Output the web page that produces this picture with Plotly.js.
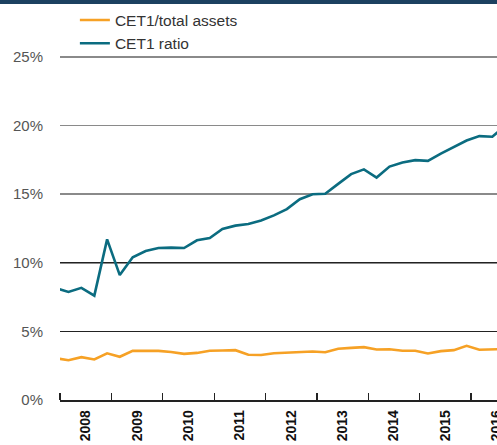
<!DOCTYPE html>
<html>
<head>
<meta charset="utf-8">
<script src="https://cdn.plot.ly/plotly-3.0.1.min.js"></script>
<style>
  html, body { margin: 0; padding: 0; background: #fff; }
  #wrap { position: relative; width: 497px; height: 445px; overflow: hidden; }
  #band { position: absolute; left: 0; top: 0; width: 497px; height: 4px; background: #1c4160; z-index: 5; }
  #chart { position: absolute; left: 0; top: 0; width: 540px; height: 445px; }
</style>
</head>
<body>
<div id="wrap"><div id="band"></div><div id="chart"></div></div>
<script>
const dates = [
  "2007-12-01","2008-03-01","2008-06-01","2008-09-01",
  "2008-12-01","2009-03-01","2009-06-01","2009-09-01",
  "2009-12-01","2010-03-01","2010-06-01","2010-09-01",
  "2010-12-01","2011-03-01","2011-06-01","2011-09-01",
  "2011-12-01","2012-03-01","2012-06-01","2012-09-01",
  "2012-12-01","2013-03-01","2013-06-01","2013-09-01",
  "2013-12-01","2014-03-01","2014-06-01","2014-09-01",
  "2014-12-01","2015-03-01","2015-06-01","2015-09-01",
  "2015-12-01","2016-03-01","2016-06-01","2016-09-01"
];
const cet1TotalAssets = [
  3.05, 2.90, 3.12, 2.95,
  3.40, 3.15, 3.58, 3.58,
  3.58, 3.50, 3.36, 3.43,
  3.59, 3.61, 3.63, 3.30,
  3.28, 3.40, 3.44, 3.48,
  3.53, 3.48, 3.73, 3.80,
  3.85, 3.68, 3.70, 3.59,
  3.59, 3.39, 3.56, 3.63,
  3.95, 3.66, 3.68, 3.72
];
const cet1Ratio = [
  8.15, 7.87, 8.17, 7.60,
  11.70, 9.10, 10.40, 10.85,
  11.07, 11.10, 11.07, 11.63,
  11.80, 12.45, 12.70, 12.82,
  13.07, 13.45, 13.90, 14.62,
  14.98, 15.02, 15.74, 16.45,
  16.80, 16.20, 17.00, 17.30,
  17.47, 17.42, 17.95, 18.44,
  18.90, 19.22, 19.17, 20.00
];
const seriesNames = ["CET1/total assets", "CET1 ratio"];
const yTickVals = [0, 5, 10, 15, 20, 25];
const yTickText = ["0%", "5%", "10%", "15%", "20%", "25%"];
const darkGridVals = [5, 10];

const FONT = "Liberation Sans, Arial, sans-serif";

const traces = [
  { x: dates, y: cet1TotalAssets, name: seriesNames[0], type: "scatter", mode: "lines",
    line: { color: "#f6a125", width: 2.6 }, hoverinfo: "skip" },
  { x: dates, y: cet1Ratio, name: seriesNames[1], type: "scatter", mode: "lines",
    line: { color: "#0b6c80", width: 2.6 }, hoverinfo: "skip" }
];

const layout = {
  width: 540, height: 445,
  margin: { l: 60, r: 0, t: 54, b: 45 },
  paper_bgcolor: "#fff", plot_bgcolor: "#fff",
  font: { family: FONT, size: 15, color: "#444" },
  showlegend: true,
  legend: {
    x: 0.031, xanchor: "left", y: 1.146, yanchor: "top",
    font: { family: FONT, size: 15.5, color: "#333" },
    bgcolor: "rgba(0,0,0,0)", itemwidth: 30, tracegroupgap: 0
  },
  xaxis: {
    type: "date",
    range: ["2008-01-01", "2017-05-06"],
    tick0: "2008-01-01", dtick: "M12",
    tickformat: "%Y", ticklabelmode: "period",
    tickangle: -90,
    ticks: "inside", ticklen: 7, tickwidth: 1.2, tickcolor: "#222",
    showline: true, linecolor: "#222", linewidth: 1.5,
    showgrid: false, zeroline: false,
    tickfont: { family: FONT, size: 14, color: "#111", weight: "bold" },
    ticklabelstandoff: 3,
    fixedrange: true
  },
  yaxis: {
    range: [0, 25.2],
    tickvals: yTickVals, ticktext: yTickText,
    showgrid: true, gridcolor: "#8a8a8a", gridwidth: 1.6,
    zeroline: false, showline: false, ticks: "",
    tickfont: { family: FONT, size: 15, color: "#555" },
    ticklabelstandoff: 16,
    fixedrange: true
  },
  yaxis2: {
    overlaying: "y", range: [0, 25.2],
    tickvals: darkGridVals, showticklabels: false,
    showgrid: true, gridcolor: "#222", gridwidth: 1.2,
    zeroline: false, showline: false, ticks: "",
    fixedrange: true
  }
};

// empty trace that activates the overlaying axis carrying the dark gridlines
traces.push({ x: [dates[1]], y: [null], yaxis: "y2", type: "scatter", mode: "lines",
  showlegend: false, hoverinfo: "skip" });

Plotly.newPlot("chart", traces, layout, { displayModeBar: false, staticPlot: true });
</script>
</body>
</html>
